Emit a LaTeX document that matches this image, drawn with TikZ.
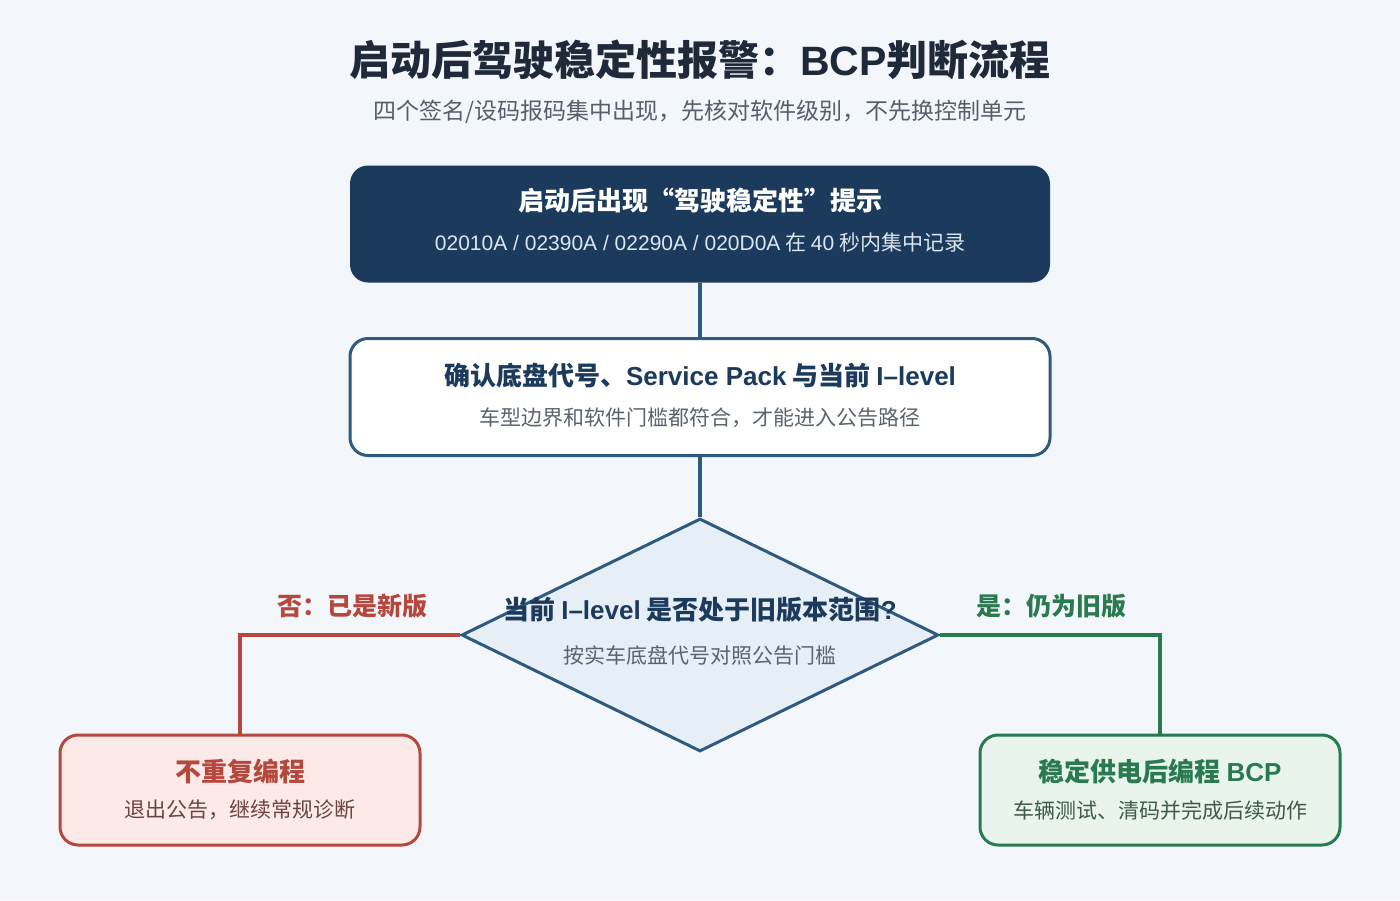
\documentclass[tikz,border=0pt]{standalone}
\usepackage{fontspec}
\setmainfont{Noto Sans CJK SC}
\newfontfamily\lat{Liberation Sans}
\usetikzlibrary{shapes.geometric}
\usetikzlibrary{calc}
\definecolor{bg}{HTML}{F3F7FB}
\definecolor{navy}{HTML}{1B3A5C}
\definecolor{steel}{HTML}{2F5A80}
\definecolor{ink}{HTML}{1E2A3A}
\definecolor{subgray}{HTML}{555F6B}
\definecolor{greytxt}{HTML}{5A6470}
\definecolor{pale}{HTML}{DCE6F0}
\definecolor{redline}{HTML}{B5473D}
\definecolor{redfill}{HTML}{FCEAE8}
\definecolor{redtxt}{HTML}{6B4440}
\definecolor{greenline}{HTML}{2A7A50}
\definecolor{greenfill}{HTML}{E8F4EC}
\definecolor{greentxt}{HTML}{3F5A4A}
\definecolor{diafill}{HTML}{E6EEF6}
\newcommand\fs[1]{\fontsize{#1}{#1}\selectfont}
\newcommand\la[1]{{\lat #1}}
\tikzset{
  wide/.style={rectangle, rounded corners=18pt, minimum width=700pt, minimum height=117pt, inner sep=0pt},
  small/.style={rectangle, rounded corners=18pt, minimum width=360pt, minimum height=110pt, inner sep=0pt, line width=3pt},
  conn/.style={draw=steel, line width=4pt},
  head/.style={font=\fs{26}\bfseries, inner sep=0pt},
  note/.style={font=\fs{21}, inner sep=0pt}
}

\begin{document}
\begin{tikzpicture}[x=1pt,y=-1pt]
\fill[bg] (0,0) rectangle (1400,900);
\useasboundingbox (0,0) rectangle (1400,900);

\node[font=\fs{41}\bfseries, text=ink] (title) at (700,60) {启动后驾驶稳定性报警：\la{BCP}判断流程};
\node[font=\fs{23}, text=subgray] (sub) at (700,112) {四个签名/设码报码集中出现，先核对软件级别，不先换控制单元};

% boxes
\node[wide, fill=navy] (start) at (700,224) {};
\node[wide, fill=white, draw=steel, line width=3pt] (check) at (700,397) {};
\node[diamond, fill=diafill, draw=steel, line width=3pt, minimum width=477pt, minimum height=233pt, inner sep=0pt] (dia) at (700,635) {};
\node[small, fill=redfill, draw=redline] (keep) at (240,790) {};
\node[small, fill=greenfill, draw=greenline] (bcp) at (1160,790) {};

% texts
\node[head, text=white] (start-t) at (700,201) {启动后出现“驾驶稳定性”提示};
\node[note, text=pale] (start-s) at (700,243) {\la{02010A / 02390A / 02290A / 020D0A} 在 \la{40} 秒内集中记录};
\node[head, text=navy] (check-t) at (700,376) {确认底盘代号、\la{Service Pack} 与当前 \la{I–level}};
\node[note, text=greytxt] (check-s) at (700,418) {车型边界和软件门槛都符合，才能进入公告路径};
\node[note, text=greytxt] (dia-s) at (700,655) {按实车底盘代号对照公告门槛};
\node[head, text=redline] (keep-t) at (240,771) {不重复编程};
\node[note, text=redtxt] (keep-s) at (240,810) {退出公告，继续常规诊断};
\node[head, text=greenline] (bcp-t) at (1160,771) {稳定供电后编程 \la{BCP}};
\node[note, text=greentxt] (bcp-s) at (1160,810) {车辆测试、清码并完成后续动作};

% connectors
\draw[conn] (start.south) -- (check.north);
\draw[conn] (check.south) -- (dia.north);
\draw[draw=redline, line width=4pt] (dia.west) -| (keep.north);
\draw[draw=greenline, line width=4pt] (dia.east) -| (bcp.north);
\node[head, font=\fs{25}\bfseries, text=redline] (no) at (352,606) {否：已是新版};
\node[head, font=\fs{25}\bfseries, text=greenline] (yes) at (1051,606) {是：仍为旧版};

% question sits over the diamond border
\node[head, text=navy] (dia-t) at (700,610) {当前 \la{I–level} 是否处于旧版本范围\la{?}};
\end{tikzpicture}
\end{document}
